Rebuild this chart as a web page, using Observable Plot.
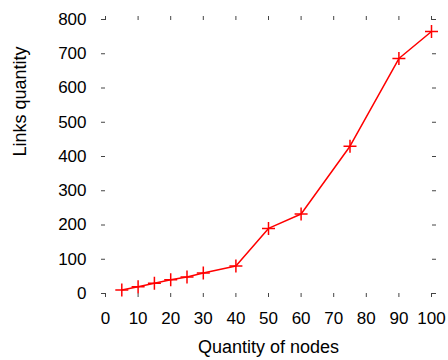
<!DOCTYPE html>
<html>
<head>
<meta charset="utf-8">
<script src="https://cdn.jsdelivr.net/npm/d3@7"></script>
<script src="https://cdn.jsdelivr.net/npm/@observablehq/plot@0.6"></script>
<style>
  html, body { margin: 0; padding: 0; background: #fff; }
  #chart svg { display: block; }
</style>
</head>
<body>
<div id="chart"></div>
<script>
const nodes = [5, 10, 15, 20, 25, 30, 40, 50, 60, 75, 90, 100];
const links = [10, 20, 30, 40, 48, 60, 80, 190, 232, 430, 686, 765];
const xTicks = [0, 10, 20, 30, 40, 50, 60, 70, 80, 90, 100];
const yTicks = [0, 100, 200, 300, 400, 500, 600, 700, 800];
const xLabel = "Quantity of nodes";
const yLabel = "Links quantity";

const data = nodes.map((n, i) => ({nodes: n, links: links[i]}));

const plusSymbol = {
  draw(context, size) {
    const r = Math.sqrt(size / Math.PI);
    context.moveTo(-r, 0); context.lineTo(r, 0);
    context.moveTo(0, -r); context.lineTo(0, r);
  }
};

const tickColor = "#444";
const chart = Plot.plot({
  width: 448,
  height: 360,
  marginLeft: 105,
  marginRight: 17,
  marginTop: 19,
  marginBottom: 67,
  style: {fontFamily: "'Liberation Sans', Arial, sans-serif", fontSize: "17px", color: "#000", background: "#fff"},
  x: {domain: [0, 100]},
  y: {domain: [0, 800]},
  marks: [
    Plot.axisX({anchor: "bottom", ticks: xTicks, tickSize: 4, tickPadding: 14, stroke: tickColor, label: null, fill: "#000", fontSize: 17}),
    Plot.axisX({anchor: "top", ticks: xTicks, tickSize: 4, tickFormat: () => "", stroke: tickColor, label: null}),
    Plot.axisY({anchor: "left", ticks: yTicks, tickSize: 4, tickPadding: 15, stroke: tickColor, label: null, fill: "#000", fontSize: 17}),
    Plot.axisY({anchor: "right", ticks: yTicks, tickSize: 4, tickFormat: () => "", stroke: tickColor, label: null}),
    Plot.line(data, {x: "nodes", y: "links", stroke: "#ff0000", strokeWidth: 1.5}),
    Plot.dot(data, {x: "nodes", y: "links", symbol: plusSymbol, r: 6.5, stroke: "#ff0000", strokeWidth: 1.5, fill: "none"}),
    Plot.text([xLabel], {frameAnchor: "bottom", dy: 47, lineAnchor: "top", text: d => d, fontSize: 18, fill: "#000"}),
    Plot.text([yLabel], {frameAnchor: "left", dx: -85, rotate: -90, text: d => d, fontSize: 18, fill: "#000"})
  ]
});
document.getElementById("chart").appendChild(chart);
</script>
</body>
</html>
